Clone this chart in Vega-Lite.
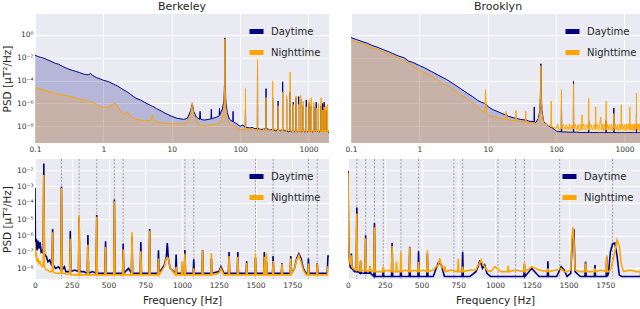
{
"$schema": "https://vega.github.io/schema/vega-lite/v6.json",
"padding": {"left": 2, "top": 1, "right": 0, "bottom": 0},
"config": {
 "font": "DejaVu Sans",
 "view": {"fill": "#EAEAF2", "stroke": null},
 "axis": {"domain": false, "ticks": false, "grid": true, "gridColor": "#FFFFFF", "gridWidth": 1, "labelFontSize": 7.5, "labelColor": "#333333", "labelPadding": 2, "labelFlush": false, "titleFontSize": 10.5, "titleFontWeight": "normal", "titleColor": "#262626", "titlePadding": 4},
 "legend": {"orient": "top-right", "offset": 8, "symbolType": "stroke", "symbolStrokeWidth": 5, "symbolSize": 196, "labelFontSize": 10, "labelColor": "#262626", "rowPadding": 0, "labelOffset": 5, "padding": 0},
 "title": {"fontSize": 11, "fontWeight": "normal", "color": "#262626", "offset": 2}
},
"datasets": {
 "tb": [
  {"f":0.1,"D":1.7e-2,"N":2.3e-5},{"f":0.11,"D":1.3e-2,"N":2.1e-5},{"f":0.12,"D":1.1e-2,"N":1.8e-5},{"f":0.13,"D":1.0e-2,"N":1.7e-5},
  {"f":0.15,"D":7e-3,"N":1.26e-5},{"f":0.17,"D":5e-3,"N":1e-5},{"f":0.2,"D":3.2e-3,"N":7e-6},{"f":0.22,"D":2.8e-3,"N":6.3e-6},
  {"f":0.25,"D":1.8e-3,"N":5.6e-6},{"f":0.3,"D":1.1e-3,"N":4.5e-6},{"f":0.35,"D":8e-4,"N":3.8e-6},{"f":0.4,"D":6.3e-4,"N":2.8e-6},
  {"f":0.45,"D":5e-4,"N":2.5e-6},{"f":0.5,"D":4e-4,"N":2e-6},{"f":0.55,"D":3.4e-4,"N":1.8e-6},{"f":0.6,"D":3.2e-4,"N":1.6e-6},
  {"f":0.65,"D":4.2e-4,"N":1.4e-6},{"f":0.7,"D":2.8e-4,"N":1.26e-6},{"f":0.8,"D":1.8e-4,"N":8e-7},{"f":0.9,"D":1.4e-4,"N":5e-7},
  {"f":1,"D":1.07e-4,"N":4.5e-7},{"f":1.2,"D":8e-5,"N":5e-7},{"f":1.4,"D":5e-5,"N":9e-7},{"f":1.5,"D":4e-5,"N":1e-6},
  {"f":1.6,"D":3.5e-5,"N":6.3e-7},{"f":1.8,"D":2.2e-5,"N":2e-7},{"f":2,"D":1.5e-5,"N":1.07e-7},{"f":2.2,"D":1.1e-5,"N":2e-7},
  {"f":2.5,"D":6.3e-6,"N":8e-8},{"f":3,"D":2.8e-6,"N":4e-8},{"f":3.5,"D":2e-6,"N":3.5e-8},{"f":4,"D":1.26e-6,"N":2.8e-8},
  {"f":5,"D":6.3e-7,"N":3.5e-8},{"f":5.2,"D":5.6e-7,"N":1e-7},{"f":5.5,"D":5e-7,"N":3.2e-8},{"f":6,"D":3.5e-7,"N":2.5e-8},
  {"f":7,"D":2.2e-7,"N":2e-8},{"f":8,"D":1.4e-7,"N":1.8e-8},{"f":10,"D":7.4e-8,"N":1.7e-8},{"f":12,"D":5e-8,"N":1.6e-8},
  {"f":15,"D":4e-8,"N":1.6e-8},{"f":17,"D":5e-8,"N":2.5e-8},{"f":19,"D":2.5e-7,"N":1.26e-7},{"f":20,"D":1e-6,"N":1.26e-6},
  {"f":21,"D":2e-7,"N":1e-7},{"f":23,"D":6.3e-8,"N":3.2e-8},{"f":25.5,"D":4e-8,"N":1.26e-8},{"f":26,"D":2e-7,"N":1.26e-8},
  {"f":26.5,"D":4e-8,"N":1.2e-8},{"f":30,"D":3.5e-8,"N":1.1e-8},{"f":35,"D":4e-8,"N":1.26e-8},{"f":37.5,"D":4.5e-8,"N":1.4e-8},
  {"f":38,"D":3.2e-7,"N":1.4e-8},{"f":38.5,"D":4.5e-8,"N":1.4e-8},{"f":45,"D":6.3e-8,"N":1.6e-8},{"f":49.5,"D":8e-8,"N":2e-8},
  {"f":50,"D":4e-7,"N":2e-8},{"f":50.5,"D":1e-7,"N":2e-8},{"f":55,"D":3.2e-7,"N":6.3e-8},{"f":58,"D":1.6e-6,"N":3.2e-7},
  {"f":59.5,"D":1e-4,"N":3.2e-5},{"f":60,"D":0.56,"N":0.45},{"f":60.5,"D":1e-4,"N":3.2e-5},{"f":62,"D":1.26e-6,"N":3.2e-7},
  {"f":65,"D":1.6e-7,"N":5e-8},{"f":70,"D":4e-8,"N":1.6e-8},{"f":78.5,"D":2.5e-8,"N":1.1e-8},{"f":79,"D":2e-7,"N":1.1e-8},
  {"f":79.5,"D":2.5e-8,"N":1.1e-8},{"f":90,"D":1.6e-8,"N":8e-9},{"f":100,"D":1e-8,"N":5e-9},{"f":110,"D":1.26e-8,"N":5e-9},
  {"f":119,"D":8e-9,"N":5e-9},{"f":120,"D":3.2e-7,"N":2e-5},{"f":121,"D":8e-9,"N":5e-9},{"f":140,"D":7e-9,"N":6e-9},
  {"f":150,"D":8e-9,"N":6.3e-9},{"f":165,"D":6e-9,"N":5e-9},{"f":179,"D":6.3e-9,"N":4e-9},{"f":180,"D":2.5e-3,"N":6.9e-3},
  {"f":181,"D":6.3e-9,"N":4e-9},{"f":210,"D":5e-9,"N":6.3e-9},{"f":239,"D":6.3e-9,"N":4e-9},{"f":240,"D":2e-5,"N":3.2e-6},
  {"f":241,"D":6.3e-9,"N":4e-9},{"f":270,"D":5e-9,"N":5e-9},{"f":299,"D":5e-9,"N":4e-9},{"f":300,"D":3.2e-6,"N":8.9e-5},
  {"f":301,"D":5e-9,"N":4e-9},{"f":330,"D":4e-9,"N":6.3e-9},{"f":359,"D":5e-9,"N":4e-9},{"f":360,"D":1.6e-6,"N":6.3e-7},
  {"f":361,"D":5e-9,"N":4e-9},{"f":390,"D":4e-9,"N":5e-9},{"f":419,"D":5e-9,"N":4e-9},{"f":420,"D":7.9e-5,"N":1e-5},
  {"f":421,"D":5e-9,"N":4e-9},{"f":450,"D":4e-9,"N":3.2e-9},{"f":479,"D":4e-9,"N":4e-9},{"f":480,"D":2.5e-6,"N":5e-6},
  {"f":481,"D":4e-9,"N":4e-9},{"f":510,"D":3.2e-9,"N":5e-9},{"f":539,"D":4e-9,"N":4e-9},{"f":540,"D":1e-5,"N":5.6e-4},
  {"f":541,"D":4e-9,"N":4e-9},{"f":570,"D":3.2e-9,"N":4e-9},{"f":599,"D":4e-9,"N":3.2e-9},{"f":600,"D":1.26e-6,"N":8e-7},
  {"f":601,"D":4e-9,"N":3.2e-9},{"f":630,"D":3.2e-9,"N":5e-9},{"f":659,"D":4e-9,"N":3.2e-9},{"f":660,"D":3.2e-6,"N":4.5e-6},
  {"f":661,"D":4e-9,"N":3.2e-9},{"f":690,"D":3.2e-9,"N":4e-9},{"f":719,"D":4e-9,"N":3.2e-9},{"f":720,"D":4e-6,"N":8e-7},
  {"f":721,"D":4e-9,"N":3.2e-9},{"f":745,"D":3.2e-9,"N":4e-9},{"f":769,"D":4e-9,"N":3.2e-9},{"f":770,"D":2.5e-6,"N":5e-6},
  {"f":771,"D":4e-9,"N":3.2e-9},{"f":800,"D":3.2e-9,"N":4.5e-9},{"f":839,"D":4e-9,"N":3.2e-9},{"f":840,"D":6.3e-7,"N":1.6e-6},
  {"f":841,"D":4e-9,"N":3.2e-9},{"f":880,"D":3.2e-9,"N":4.5e-9},{"f":929,"D":4e-9,"N":3.2e-9},{"f":930,"D":2e-6,"N":5e-7},
  {"f":931,"D":4e-9,"N":3.2e-9},{"f":975,"D":3.2e-9,"N":4.5e-9},{"f":1019,"D":4e-9,"N":3.2e-9},{"f":1020,"D":1e-6,"N":2e-6},
  {"f":1021,"D":4e-9,"N":3.2e-9},{"f":1060,"D":3.2e-9,"N":4.5e-9},{"f":1099,"D":4e-9,"N":3.2e-9},{"f":1100,"D":6.3e-7,"N":3.2e-6},
  {"f":1101,"D":4e-9,"N":3.2e-9},{"f":1150,"D":3.2e-9,"N":4.5e-9},{"f":1199,"D":4e-9,"N":3.2e-9},{"f":1200,"D":5e-7,"N":1.26e-6},
  {"f":1201,"D":4e-9,"N":3.2e-9},{"f":1250,"D":3.2e-9,"N":4.5e-9},{"f":1299,"D":4e-9,"N":3.2e-9},{"f":1300,"D":1.26e-6,"N":4e-7},
  {"f":1301,"D":4e-9,"N":3.2e-9},{"f":1350,"D":3.2e-9,"N":4.5e-9},{"f":1399,"D":4e-9,"N":3.2e-9},{"f":1400,"D":3.2e-7,"N":1e-6},
  {"f":1401,"D":4e-9,"N":3.2e-9},{"f":1460,"D":3.2e-9,"N":4.5e-9},{"f":1529,"D":4e-9,"N":3.2e-9},{"f":1530,"D":6.3e-7,"N":3.2e-6},
  {"f":1531,"D":4e-9,"N":3.2e-9},{"f":1580,"D":3.2e-9,"N":4.5e-9},{"f":1619,"D":4e-9,"N":3.2e-9},{"f":1620,"D":1e-6,"N":2.5e-7},
  {"f":1621,"D":4e-9,"N":3.2e-9},{"f":1660,"D":3.2e-9,"N":4.5e-9},{"f":1699,"D":4e-9,"N":3.2e-9},{"f":1700,"D":1.26e-6,"N":5e-7},
  {"f":1701,"D":4e-9,"N":3.2e-9},{"f":1750,"D":3.2e-9,"N":4.5e-9},{"f":1799,"D":4e-9,"N":3.2e-9},{"f":1800,"D":2.5e-7,"N":6.3e-7},
  {"f":1801,"D":4e-9,"N":3.2e-9},{"f":1850,"D":3.2e-9,"N":4.5e-9},{"f":1899,"D":4e-9,"N":3.2e-9},{"f":1900,"D":3.2e-7,"N":8e-7},
  {"f":1901,"D":4e-9,"N":3.2e-9},{"f":1950,"D":3.2e-9,"N":4.5e-9},{"f":2000,"D":2.5e-9,"N":2.8e-9}
 ],
 "tk": [
  {"f":0.1,"D":0.59,"N":0.37},{"f":0.12,"D":0.4,"N":0.25},{"f":0.15,"D":0.25,"N":0.16},{"f":0.17,"D":0.2,"N":0.12},
  {"f":0.2,"D":0.126,"N":0.079},{"f":0.25,"D":0.079,"N":0.05},{"f":0.3,"D":0.05,"N":0.032},{"f":0.35,"D":0.036,"N":0.022},
  {"f":0.4,"D":0.025,"N":0.016},{"f":0.5,"D":0.014,"N":8.9e-3},{"f":0.6,"D":0.01,"N":5e-3},{"f":0.7,"D":5e-3,"N":3.2e-3},
  {"f":0.8,"D":4e-3,"N":2e-3},{"f":1,"D":2.1e-3,"N":7.9e-4},{"f":1.2,"D":1.3e-3,"N":5e-4},{"f":1.5,"D":6.3e-4,"N":2.5e-4},
  {"f":2,"D":2.5e-4,"N":7.9e-5},{"f":2.5,"D":1.26e-4,"N":4e-5},{"f":3,"D":6.3e-5,"N":2e-5},{"f":4,"D":2e-5,"N":6.3e-6},
  {"f":5,"D":7.9e-6,"N":2.5e-6},{"f":6,"D":4e-6,"N":1.1e-6},{"f":7,"D":2e-6,"N":5e-7},{"f":8,"D":1.3e-6,"N":2.5e-7},
  {"f":9,"D":1e-6,"N":1.6e-7},{"f":9.3,"D":8e-7,"N":1.6e-5},{"f":9.6,"D":7.9e-7,"N":1.6e-7},{"f":10,"D":5.4e-7,"N":1e-7},
  {"f":12,"D":2.8e-7,"N":7e-8},{"f":15,"D":1.6e-7,"N":5e-8},{"f":18,"D":1e-7,"N":4e-8},{"f":18.6,"D":1e-7,"N":2e-7},
  {"f":19.2,"D":9e-8,"N":4e-8},{"f":20,"D":7.4e-8,"N":3.7e-8},{"f":25.5,"D":5e-8,"N":3e-8},{"f":26,"D":5e-8,"N":2.5e-7},
  {"f":26.5,"D":5e-8,"N":3e-8},{"f":30,"D":4e-8,"N":2.5e-8},{"f":35.5,"D":3.5e-8,"N":2.2e-8},{"f":36,"D":3.5e-8,"N":2e-7},
  {"f":36.5,"D":3.5e-8,"N":2.2e-8},{"f":40,"D":2.8e-8,"N":2e-8},{"f":47.5,"D":2.5e-8,"N":1.8e-8},{"f":48,"D":5e-7,"N":1.8e-8},
  {"f":48.5,"D":2.5e-8,"N":1.8e-8},{"f":50,"D":2e-8,"N":1.6e-8},{"f":55,"D":5e-8,"N":3.2e-8},{"f":58,"D":2.5e-7,"N":1.6e-7},
  {"f":59.5,"D":3.2e-5,"N":1e-5},{"f":60,"D":3e-3,"N":2e-3},{"f":60.5,"D":3.2e-5,"N":1e-5},{"f":62,"D":2.5e-7,"N":1.6e-7},
  {"f":66,"D":2.5e-8,"N":2e-8},{"f":75,"D":1.26e-8,"N":1.26e-8},{"f":84,"D":8e-9,"N":1e-8},{"f":85,"D":8e-9,"N":1.6e-6},
  {"f":86,"D":8e-9,"N":1e-8},{"f":100,"D":4e-9,"N":6.3e-9},{"f":105,"D":3.5e-9,"N":1.6e-8},{"f":110,"D":3.5e-9,"N":5e-9},{"f":119,"D":3.2e-9,"N":6.3e-9},
  {"f":120,"D":1e-6,"N":1.6e-5},{"f":121,"D":3.2e-9,"N":6.3e-9},{"f":128,"D":3.2e-9,"N":1.6e-8},{"f":135,"D":3.2e-9,"N":5e-9},{"f":142,"D":3.2e-9,"N":1.4e-8},{"f":150,"D":3e-9,"N":5e-9},
  {"f":157,"D":3e-9,"N":1.6e-8},{"f":165,"D":3e-9,"N":5e-9},{"f":172,"D":3e-9,"N":1.3e-8},{"f":179,"D":3e-9,"N":6.3e-9},{"f":180,"D":8.9e-5,"N":5e-5},{"f":181,"D":3e-9,"N":6.3e-9},
  {"f":190,"D":3e-9,"N":1.6e-8},{"f":200,"D":3e-9,"N":5e-9},{"f":210,"D":3e-9,"N":1.4e-8},{"f":220,"D":2.8e-9,"N":4e-9},{"f":230,"D":2.8e-9,"N":1.6e-8},{"f":239,"D":2.8e-9,"N":5e-9},{"f":240,"D":2.8e-9,"N":1e-7},
  {"f":241,"D":2.8e-9,"N":5e-9},{"f":255,"D":2.8e-9,"N":1.6e-8},{"f":270,"D":2.8e-9,"N":5e-9},{"f":285,"D":2.8e-9,"N":1.4e-8},{"f":299,"D":2.8e-9,"N":5e-9},{"f":300,"D":3.2e-8,"N":2.8e-6},
  {"f":301,"D":2.8e-9,"N":5e-9},{"f":320,"D":2.8e-9,"N":1.6e-8},{"f":340,"D":2.8e-9,"N":5e-9},{"f":360,"D":2.8e-9,"N":1.4e-8},{"f":379,"D":2.8e-9,"N":5e-9},{"f":380,"D":2.8e-9,"N":5e-7},
  {"f":381,"D":2.8e-9,"N":5e-9},{"f":400,"D":2.8e-9,"N":1.6e-8},{"f":420,"D":2.8e-9,"N":5e-9},{"f":435,"D":2.8e-9,"N":1.4e-8},{"f":450,"D":2.8e-9,"N":6.3e-8},{"f":465,"D":2.8e-9,"N":5e-9},{"f":480,"D":2.8e-9,"N":1.6e-8},
  {"f":495,"D":2.8e-9,"N":4e-9},{"f":510,"D":2.8e-9,"N":1.4e-8},{"f":525,"D":2.8e-9,"N":5e-9},{"f":539,"D":2.8e-9,"N":5e-9},{"f":540,"D":3.2e-8,"N":1.6e-6},{"f":541,"D":2.8e-9,"N":5e-9},
  {"f":560,"D":2.8e-9,"N":1.6e-8},{"f":580,"D":2.8e-9,"N":5e-9},{"f":600,"D":2.8e-9,"N":1.4e-8},{"f":625,"D":2.8e-9,"N":5e-9},{"f":650,"D":2.8e-9,"N":1.6e-8},{"f":675,"D":2.8e-9,"N":4e-9},{"f":699,"D":2.8e-9,"N":6.3e-9},{"f":700,"D":4e-7,"N":1.26e-7},
  {"f":701,"D":2.8e-9,"N":6.3e-9},{"f":730,"D":2.8e-9,"N":1.6e-8},{"f":760,"D":2.8e-9,"N":5e-9},{"f":790,"D":2.8e-9,"N":1.4e-8},{"f":820,"D":2.8e-9,"N":4e-9},{"f":850,"D":2.8e-9,"N":1.6e-8},{"f":875,"D":2.8e-9,"N":5e-9},{"f":899,"D":2.8e-9,"N":6.3e-9},
  {"f":900,"D":2.8e-9,"N":7.9e-7},{"f":901,"D":2.8e-9,"N":6.3e-9},{"f":930,"D":2.8e-9,"N":1.6e-8},{"f":960,"D":2.8e-9,"N":5e-9},{"f":995,"D":2.8e-9,"N":1.4e-8},{"f":1030,"D":2.8e-9,"N":4e-9},{"f":1065,"D":2.8e-9,"N":1.6e-8},
  {"f":1100,"D":2.8e-9,"N":5e-9},{"f":1135,"D":2.8e-9,"N":1.6e-8},{"f":1170,"D":2.8e-9,"N":5e-9},{"f":1199,"D":2.8e-9,"N":5e-9},{"f":1200,"D":2.8e-9,"N":5e-7},{"f":1201,"D":2.8e-9,"N":5e-9},
  {"f":1240,"D":2.8e-9,"N":1.6e-8},{"f":1280,"D":2.8e-9,"N":5e-9},{"f":1315,"D":2.8e-9,"N":1.4e-8},{"f":1350,"D":2.8e-9,"N":4e-9},{"f":1385,"D":2.8e-9,"N":1.6e-8},{"f":1420,"D":2.8e-9,"N":5e-9},{"f":1460,"D":2.8e-9,"N":1.6e-8},{"f":1499,"D":2.8e-9,"N":6.3e-9},
  {"f":1500,"D":1e-7,"N":7.9e-6},{"f":1501,"D":2.8e-9,"N":6.3e-9},{"f":1535,"D":2.8e-9,"N":1.6e-8},{"f":1570,"D":2.8e-9,"N":5e-9},{"f":1610,"D":2.8e-9,"N":1.6e-8},{"f":1650,"D":2.8e-9,"N":4e-9},
  {"f":1685,"D":2.8e-9,"N":1.6e-8},{"f":1720,"D":2.8e-9,"N":5e-9},{"f":1760,"D":2.8e-9,"N":1.6e-8},{"f":1799,"D":2.8e-9,"N":6.3e-9},{"f":1800,"D":2.5e-7,"N":1.6e-6},{"f":1801,"D":2.8e-9,"N":6.3e-9},
  {"f":1835,"D":2.8e-9,"N":1.6e-8},{"f":1870,"D":2.8e-9,"N":5e-9},{"f":1905,"D":2.8e-9,"N":1.6e-8},{"f":1940,"D":2.8e-9,"N":4e-9},{"f":1970,"D":2.8e-9,"N":1.6e-8},{"f":2000,"D":2.5e-9,"N":7.9e-9}
 ],
 "bb": [
  {"f":0,"D":8e-4,"N":4e-7},{"f":3,"D":2.5e-7,"N":5e-8},{"f":8,"D":6.3e-7,"N":1e-7},{"f":14,"D":1.26e-7,"N":2.5e-8},
  {"f":20,"D":5e-7,"N":4e-8},{"f":27,"D":1.6e-7,"N":2e-8},{"f":34,"D":4e-7,"N":2.5e-8},{"f":42,"D":1e-7,"N":1.6e-8},
  {"f":50,"D":1.26e-7,"N":1.26e-8},{"f":56,"D":8e-8,"N":1.6e-8},{"f":60,"D":2.5e-2,"N":5e-3},{"f":64,"D":8e-8,"N":1.26e-8},
  {"f":70,"D":6.3e-8,"N":1e-8},{"f":78,"D":5e-8,"N":7.9e-9},{"f":88,"D":2.5e-8,"N":7.9e-9},{"f":100,"D":3.2e-8,"N":6.3e-9},
  {"f":112,"D":1.6e-8,"N":6.3e-9},{"f":116,"D":1.6e-8,"N":6.3e-9},{"f":120,"D":2.5e-6,"N":1.6e-6},{"f":124,"D":1.6e-8,"N":6.3e-9},
  {"f":140,"D":1e-8,"N":5e-9},{"f":160,"D":1.26e-8,"N":5e-9},{"f":176,"D":7.9e-9,"N":5e-9},{"f":180,"D":1e-3,"N":7.9e-4},
  {"f":184,"D":7.9e-9,"N":5e-9},{"f":200,"D":1.26e-8,"N":5e-9},{"f":210,"D":6.3e-9,"N":4.5e-9},{"f":236,"D":6.3e-9,"N":4.5e-9},
  {"f":240,"D":2e-6,"N":6.3e-7},{"f":244,"D":6.3e-9,"N":4e-9},{"f":270,"D":7.9e-9,"N":4e-9},{"f":296,"D":6.3e-9,"N":4e-9},
  {"f":300,"D":1.26e-5,"N":1.8e-5},{"f":304,"D":6.3e-9,"N":4e-9},{"f":330,"D":6.3e-9,"N":4e-9},{"f":356,"D":5e-9,"N":4e-9},
  {"f":360,"D":1.1e-6,"N":2.8e-7},{"f":364,"D":5e-9,"N":4e-9},{"f":390,"D":6.3e-9,"N":4e-9},{"f":416,"D":5e-9,"N":4e-9},
  {"f":420,"D":1.8e-5,"N":1.4e-5},{"f":424,"D":5e-9,"N":4e-9},{"f":450,"D":5e-9,"N":4e-9},{"f":476,"D":5e-9,"N":4e-9},
  {"f":480,"D":4.5e-7,"N":2e-7},{"f":484,"D":5e-9,"N":4e-9},{"f":510,"D":5e-9,"N":4e-9},{"f":536,"D":5e-9,"N":4e-9},
  {"f":540,"D":1.6e-4,"N":1.26e-4},{"f":544,"D":5e-9,"N":4e-9},{"f":570,"D":5e-9,"N":4e-9},{"f":596,"D":5e-9,"N":4e-9},
  {"f":600,"D":3.2e-7,"N":1.4e-7},{"f":604,"D":5e-9,"N":4e-9},{"f":636,"D":1e-8,"N":4e-9},{"f":656,"D":5e-9,"N":4e-9},
  {"f":660,"D":8.9e-7,"N":1.6e-6},{"f":664,"D":5e-9,"N":4e-9},{"f":690,"D":5e-9,"N":4e-9},{"f":716,"D":5e-9,"N":4e-9},
  {"f":720,"D":4e-7,"N":1.1e-7},{"f":724,"D":5e-9,"N":4e-9},{"f":750,"D":5e-9,"N":4e-9},{"f":776,"D":5e-9,"N":4e-9},
  {"f":780,"D":2.5e-6,"N":2e-6},{"f":784,"D":5e-9,"N":4e-9},{"f":810,"D":5e-9,"N":4e-9},{"f":836,"D":5e-9,"N":4e-9},
  {"f":840,"D":1.26e-7,"N":4e-8},{"f":844,"D":5e-9,"N":4e-9},{"f":880,"D":1.6e-8,"N":1.26e-8},{"f":893,"D":5e-8,"N":4e-8},
  {"f":900,"D":3.5e-7,"N":4.5e-8},{"f":907,"D":4e-8,"N":4e-8},{"f":920,"D":1e-8,"N":1e-8},{"f":956,"D":5e-9,"N":4e-9},
  {"f":960,"D":7e-8,"N":1.26e-8},{"f":964,"D":5e-9,"N":4e-9},{"f":996,"D":5e-9,"N":4e-9},{"f":1000,"D":6.3e-9,"N":2.7e-8},
  {"f":1004,"D":5e-9,"N":4e-9},{"f":1016,"D":5e-9,"N":4e-9},{"f":1020,"D":1.3e-7,"N":7.9e-8},{"f":1024,"D":5e-9,"N":4e-9},
  {"f":1050,"D":5e-9,"N":4e-9},{"f":1076,"D":5e-9,"N":4e-9},{"f":1080,"D":3.6e-8,"N":1e-8},{"f":1084,"D":5e-9,"N":4e-9},
  {"f":1110,"D":5e-9,"N":4e-9},{"f":1136,"D":5e-9,"N":4e-9},{"f":1140,"D":1.3e-7,"N":1.26e-7},{"f":1144,"D":5e-9,"N":4e-9},
  {"f":1170,"D":5e-9,"N":4e-9},{"f":1196,"D":5e-9,"N":4e-9},{"f":1200,"D":4e-8,"N":8.5e-8},{"f":1204,"D":5e-9,"N":4e-9},
  {"f":1250,"D":6.3e-9,"N":5e-9},{"f":1265,"D":1.26e-8,"N":1e-8},{"f":1285,"D":5e-9,"N":4e-9},{"f":1316,"D":5e-9,"N":4e-9},
  {"f":1320,"D":1e-7,"N":5.6e-8},{"f":1324,"D":5e-9,"N":4e-9},{"f":1350,"D":5e-9,"N":4e-9},{"f":1376,"D":5e-9,"N":4e-9},
  {"f":1380,"D":1e-7,"N":5e-8},{"f":1384,"D":5e-9,"N":4e-9},{"f":1410,"D":5e-9,"N":4e-9},{"f":1436,"D":5e-9,"N":4e-9},
  {"f":1440,"D":2.7e-8,"N":2.2e-8},{"f":1444,"D":5e-9,"N":4e-9},{"f":1470,"D":5e-9,"N":4e-9},{"f":1496,"D":5e-9,"N":4e-9},
  {"f":1500,"D":4.5e-8,"N":7.9e-8},{"f":1504,"D":5e-9,"N":4e-9},{"f":1530,"D":5e-9,"N":4e-9},{"f":1556,"D":5e-9,"N":4e-9},
  {"f":1560,"D":1e-7,"N":5e-8},{"f":1564,"D":5e-9,"N":4e-9},{"f":1571,"D":5e-9,"N":4e-9},{"f":1575,"D":2.5e-8,"N":7.9e-8},
  {"f":1579,"D":5e-9,"N":4e-9},{"f":1616,"D":5e-9,"N":4e-9},{"f":1620,"D":5.6e-8,"N":2.8e-8},{"f":1624,"D":5e-9,"N":4e-9},
  {"f":1650,"D":5e-9,"N":4e-9},{"f":1676,"D":5e-9,"N":4e-9},{"f":1680,"D":2.1e-8,"N":2e-8},{"f":1684,"D":5e-9,"N":4e-9},
  {"f":1710,"D":5e-9,"N":4e-9},{"f":1736,"D":5e-9,"N":4e-9},{"f":1740,"D":5.6e-8,"N":4e-8},{"f":1744,"D":5e-9,"N":4e-9},
  {"f":1765,"D":1e-8,"N":1e-8},{"f":1780,"D":4e-8,"N":3.2e-8},{"f":1795,"D":7.9e-8,"N":6.3e-8},{"f":1810,"D":4e-8,"N":2.5e-8},
  {"f":1825,"D":1e-8,"N":7.9e-9},{"f":1845,"D":5e-9,"N":4e-9},{"f":1856,"D":5e-9,"N":4e-9},{"f":1860,"D":4e-8,"N":2e-8},
  {"f":1864,"D":5e-9,"N":4e-9},{"f":1890,"D":5e-9,"N":4e-9},{"f":1916,"D":5e-9,"N":4e-9},{"f":1920,"D":2e-8,"N":2e-8},
  {"f":1924,"D":5e-9,"N":4e-9},{"f":1960,"D":5e-9,"N":4e-9},{"f":1988,"D":5e-9,"N":4e-9},{"f":1993,"D":5.6e-8,"N":1.26e-8},
  {"f":2000,"D":5.6e-8,"N":1.26e-8}
 ],
 "bk": [
  {"f":0,"D":9e-3,"N":6.3e-3},{"f":2,"D":1e-4,"N":3.2e-5},{"f":4,"D":1.26e-6,"N":1e-6},{"f":8,"D":5e-8,"N":6.3e-8},
  {"f":15,"D":1.26e-8,"N":2e-8},{"f":20,"D":1e-8,"N":1.6e-8},{"f":23,"D":7.9e-8,"N":6.3e-8},{"f":26,"D":1e-8,"N":1.26e-8},
  {"f":35,"D":7.9e-9,"N":1e-8},{"f":45,"D":6.3e-9,"N":1e-8},{"f":56,"D":6.3e-9,"N":7.9e-9},{"f":60,"D":5.1e-5,"N":2.2e-5},
  {"f":64,"D":6.3e-9,"N":7.9e-9},{"f":82,"D":5e-9,"N":7e-9},{"f":86,"D":2.7e-8,"N":3.2e-8},{"f":90,"D":5e-9,"N":7e-9},
  {"f":100,"D":5e-9,"N":7.9e-9},{"f":116,"D":5e-9,"N":7e-9},{"f":120,"D":1.05e-6,"N":6.9e-7},{"f":124,"D":5e-9,"N":7e-9},
  {"f":146,"D":5e-9,"N":7e-9},{"f":150,"D":1.4e-8,"N":1.4e-8},{"f":154,"D":5e-9,"N":7e-9},{"f":176,"D":3.2e-9,"N":6.3e-9},
  {"f":180,"D":5.9e-6,"N":3.2e-6},{"f":184,"D":3.2e-9,"N":6.3e-9},{"f":236,"D":3.2e-9,"N":6.3e-9},{"f":240,"D":1e-8,"N":1.26e-8},
  {"f":244,"D":3.2e-9,"N":6.3e-9},{"f":270,"D":3.2e-9,"N":7.9e-9},{"f":296,"D":3.2e-9,"N":6.3e-9},{"f":300,"D":3.5e-7,"N":2.3e-7},
  {"f":304,"D":3.2e-9,"N":6.3e-9},{"f":326,"D":3.2e-9,"N":6.3e-9},{"f":330,"D":3.2e-9,"N":2.5e-8},{"f":334,"D":3.2e-9,"N":6.3e-9},
  {"f":356,"D":3.2e-9,"N":6.3e-9},{"f":360,"D":1.26e-8,"N":1e-7},{"f":364,"D":3.2e-9,"N":6.3e-9},{"f":390,"D":3.2e-9,"N":7.9e-9},
  {"f":416,"D":3.2e-9,"N":6.3e-9},{"f":420,"D":2.1e-7,"N":1.9e-7},{"f":424,"D":3.2e-9,"N":6.3e-9},{"f":450,"D":3.2e-9,"N":7.9e-9},
  {"f":476,"D":3.2e-9,"N":6.3e-9},{"f":480,"D":1.1e-7,"N":2.5e-8},{"f":484,"D":3.2e-9,"N":6.3e-9},{"f":510,"D":3.2e-9,"N":7.9e-9},
  {"f":536,"D":3.2e-9,"N":6.3e-9},{"f":540,"D":7.9e-8,"N":1.26e-7},{"f":544,"D":3.2e-9,"N":6.3e-9},{"f":580,"D":3.2e-9,"N":7.9e-9},
  {"f":600,"D":1e-8,"N":1.26e-8},{"f":615,"D":2.2e-8,"N":1.6e-8},{"f":624,"D":2e-8,"N":4.2e-8},{"f":635,"D":1.6e-8,"N":1.26e-8},
  {"f":650,"D":5e-9,"N":1e-8},{"f":656,"D":3.2e-9,"N":6.3e-9},{"f":660,"D":3.2e-9,"N":1.4e-8},{"f":664,"D":3.2e-9,"N":6.3e-9},
  {"f":700,"D":3.2e-9,"N":7.9e-9},{"f":746,"D":3.2e-9,"N":6.3e-9},{"f":750,"D":3.2e-9,"N":4e-8},{"f":754,"D":3.2e-9,"N":6.3e-9},
  {"f":776,"D":3.2e-9,"N":6.3e-9},{"f":780,"D":1e-7,"N":1.26e-8},{"f":784,"D":3.2e-9,"N":6.3e-9},{"f":830,"D":3.2e-9,"N":7.9e-9},
  {"f":870,"D":6.3e-9,"N":7.9e-9},{"f":885,"D":1.26e-8,"N":1.6e-8},{"f":895,"D":2.7e-8,"N":2e-8},{"f":905,"D":2e-8,"N":3.3e-8},
  {"f":915,"D":1e-8,"N":2e-8},{"f":930,"D":1.6e-8,"N":1.26e-8},{"f":945,"D":5e-9,"N":7.9e-9},{"f":970,"D":3.2e-9,"N":6.3e-9},
  {"f":1000,"D":3.2e-9,"N":1.26e-8},{"f":1040,"D":3.2e-9,"N":6.3e-9},{"f":1086,"D":3.2e-9,"N":6.3e-9},{"f":1090,"D":3.2e-9,"N":1.4e-8},
  {"f":1094,"D":3.2e-9,"N":6.3e-9},{"f":1140,"D":3.2e-9,"N":7.9e-9},{"f":1196,"D":3.2e-9,"N":6.3e-9},{"f":1200,"D":1.7e-8,"N":2.2e-8},
  {"f":1204,"D":3.2e-9,"N":6.3e-9},{"f":1250,"D":1e-8,"N":1.26e-8},{"f":1300,"D":3.2e-9,"N":7.9e-9},{"f":1356,"D":3.2e-9,"N":6.3e-9},
  {"f":1360,"D":2.7e-8,"N":1e-8},{"f":1364,"D":3.2e-9,"N":6.3e-9},{"f":1420,"D":3.2e-9,"N":7.9e-9},{"f":1450,"D":1.26e-8,"N":1e-8},
  {"f":1470,"D":7.9e-9,"N":6.3e-9},{"f":1490,"D":3.2e-9,"N":6.3e-9},{"f":1515,"D":5e-9,"N":7.9e-9},{"f":1525,"D":3.2e-7,"N":1e-6},
  {"f":1530,"D":1.4e-6,"N":3.2e-6},{"f":1537,"D":1.8e-6,"N":5e-7},{"f":1545,"D":6.3e-9,"N":7.9e-9},{"f":1580,"D":3.2e-9,"N":6.3e-9},
  {"f":1612,"D":3.2e-9,"N":6.3e-9},{"f":1616,"D":2.5e-8,"N":2e-8},{"f":1620,"D":3.2e-9,"N":6.3e-9},{"f":1676,"D":3.2e-9,"N":6.3e-9},
  {"f":1680,"D":1.6e-8,"N":1e-8},{"f":1684,"D":3.2e-9,"N":6.3e-9},{"f":1720,"D":3.2e-9,"N":7.9e-9},{"f":1756,"D":3.2e-9,"N":6.3e-9},
  {"f":1760,"D":5e-8,"N":6.3e-8},{"f":1764,"D":3.2e-9,"N":6.3e-9},{"f":1772,"D":5e-9,"N":6.3e-9},{"f":1785,"D":1e-7,"N":7.9e-9},
  {"f":1800,"D":3.2e-7,"N":2.5e-8},{"f":1815,"D":3.5e-7,"N":1e-7},{"f":1830,"D":6.3e-8,"N":5.5e-7},{"f":1845,"D":4e-9,"N":2.5e-7},
  {"f":1860,"D":3.2e-9,"N":1.6e-8},{"f":1875,"D":3.2e-9,"N":6.3e-9},{"f":1920,"D":3.2e-9,"N":7.9e-9},{"f":1960,"D":3.2e-9,"N":6.3e-9},
  {"f":1990,"D":3.2e-9,"N":6.3e-9},{"f":2000,"D":1.6e-7,"N":6.3e-9}
 ],
 "hb": [{"f":180},{"f":300},{"f":420},{"f":540},{"f":600},{"f":1020},{"f":1080},{"f":1260},{"f":1500},{"f":1620},{"f":1860},{"f":1920}],
 "hk": [{"f":60},{"f":120},{"f":180},{"f":240},{"f":360},{"f":480},{"f":720},{"f":780},{"f":1020},{"f":1140},{"f":1200},{"f":1440},{"f":1800}]
},
"spacing": 5,
"resolve": {"scale": {"stroke": "independent"}, "legend": {"stroke": "independent"}},
"vconcat": [
 {
  "spacing": 16,
  "resolve": {"scale": {"stroke": "independent"}, "legend": {"stroke": "independent"}},
  "hconcat": [
   {
    "width": 294, "height": 129, "title": "Berkeley",
    "data": {"name": "tb"},
    "transform": [{"fold": ["D", "N"], "as": ["s", "v"]}],
    "encoding": {
     "x": {"field": "f", "type": "quantitative", "scale": {"type": "log", "domain": [0.1, 2000], "nice": false}, "axis": {"values": [0.1, 1, 10, 100, 1000], "format": "~g", "title": null}},
     "y": {"field": "v", "type": "quantitative", "stack": null, "scale": {"type": "log", "domain": [3.4e-10, 69], "nice": false}, "axis": {"values": [1, 0.01, 0.0001, 1e-6, 1e-8], "labelExpr": "['10⁰','10⁻¹','10⁻²','10⁻³','10⁻⁴','10⁻⁵','10⁻⁶','10⁻⁷','10⁻⁸','10⁻⁹'][-round(log(datum.value)/LN10)]", "title": "PSD [μT²/Hz]"}}
    },
    "layer": [
     {"transform": [{"filter": "datum.s == 'D'"}], "mark": {"type": "area", "color": "#000080", "opacity": 0.22, "clip": true}},
     {"transform": [{"filter": "datum.s == 'N'"}], "mark": {"type": "area", "color": "#FFA500", "opacity": 0.22, "clip": true}},
     {"mark": {"type": "line", "strokeWidth": 1, "clip": true}, "encoding": {"stroke": {"field": "s", "type": "nominal", "scale": {"domain": ["D", "N"], "range": ["#000080", "#FFA500"]}, "legend": {"title": null, "labelExpr": "datum.label == 'D' ? 'Daytime' : 'Nighttime'"}}}}
    ]
   },
   {
    "width": 294, "height": 129, "title": "Brooklyn",
    "data": {"name": "tk"},
    "transform": [{"fold": ["D", "N"], "as": ["s", "v"]}],
    "encoding": {
     "x": {"field": "f", "type": "quantitative", "scale": {"type": "log", "domain": [0.1, 2000], "nice": false}, "axis": {"values": [0.1, 1, 10, 100, 1000], "format": "~g", "title": null}},
     "y": {"field": "v", "type": "quantitative", "stack": null, "scale": {"type": "log", "domain": [3.4e-10, 69], "nice": false}, "axis": {"values": [1, 0.01, 0.0001, 1e-6, 1e-8], "labels": false, "title": null}}
    },
    "layer": [
     {"transform": [{"filter": "datum.s == 'D'"}], "mark": {"type": "area", "color": "#000080", "opacity": 0.22, "clip": true}},
     {"transform": [{"filter": "datum.s == 'N'"}], "mark": {"type": "area", "color": "#FFA500", "opacity": 0.22, "clip": true}},
     {"mark": {"type": "line", "strokeWidth": 1, "clip": true}, "encoding": {"stroke": {"field": "s", "type": "nominal", "scale": {"domain": ["D", "N"], "range": ["#000080", "#FFA500"]}, "legend": {"title": null, "labelExpr": "datum.label == 'D' ? 'Daytime' : 'Nighttime'"}}}}
    ]
   }
  ]
 },
 {
  "spacing": 16,
  "resolve": {"scale": {"stroke": "independent"}, "legend": {"stroke": "independent"}},
  "hconcat": [
   {
    "width": 294, "height": 120,
    "encoding": {
     "x": {"field": "f", "type": "quantitative", "scale": {"domain": [0, 2000], "nice": false, "zero": false}, "axis": {"values": [0, 250, 500, 750, 1000, 1250, 1500, 1750], "format": "d", "title": "Frequency [Hz]", "titlePadding": 7}}
    },
    "layer": [
     {"data": {"name": "hb"}, "mark": {"type": "rule", "color": "#666666", "strokeWidth": 0.8, "strokeDash": [2, 1.5], "opacity": 0.7}, "encoding": {"x": {"field": "f", "type": "quantitative"}}},
     {"data": {"name": "bb"}, "transform": [{"fold": ["D", "N"], "as": ["s", "v"]}], "mark": {"type": "line", "strokeWidth": 1.6, "clip": true},
      "encoding": {
       "y": {"field": "v", "type": "quantitative", "scale": {"type": "log", "domain": [2.24e-9, 0.047], "nice": false}, "axis": {"values": [0.01, 0.001, 0.0001, 1e-5, 1e-6, 1e-7, 1e-8], "labelExpr": "['10⁰','10⁻¹','10⁻²','10⁻³','10⁻⁴','10⁻⁵','10⁻⁶','10⁻⁷','10⁻⁸','10⁻⁹'][-round(log(datum.value)/LN10)]", "title": "PSD [μT²/Hz]"}},
       "stroke": {"field": "s", "type": "nominal", "scale": {"domain": ["D", "N"], "range": ["#000080", "#FFA500"]}, "legend": {"title": null, "labelExpr": "datum.label == 'D' ? 'Daytime' : 'Nighttime'"}}}}
    ]
   },
   {
    "width": 294, "height": 120,
    "encoding": {
     "x": {"field": "f", "type": "quantitative", "scale": {"domain": [0, 2000], "nice": false, "zero": false}, "axis": {"values": [0, 250, 500, 750, 1000, 1250, 1500, 1750], "format": "d", "title": "Frequency [Hz]", "titlePadding": 7}}
    },
    "layer": [
     {"data": {"name": "hk"}, "mark": {"type": "rule", "color": "#666666", "strokeWidth": 0.8, "strokeDash": [2, 1.5], "opacity": 0.7}, "encoding": {"x": {"field": "f", "type": "quantitative"}}},
     {"data": {"name": "bk"}, "transform": [{"fold": ["D", "N"], "as": ["s", "v"]}], "mark": {"type": "line", "strokeWidth": 1.6, "clip": true},
      "encoding": {
       "y": {"field": "v", "type": "quantitative", "scale": {"type": "log", "domain": [2.24e-9, 0.047], "nice": false}, "axis": {"values": [0.01, 0.001, 0.0001, 1e-5, 1e-6, 1e-7, 1e-8], "labels": false, "title": null}},
       "stroke": {"field": "s", "type": "nominal", "scale": {"domain": ["D", "N"], "range": ["#000080", "#FFA500"]}, "legend": {"title": null, "labelExpr": "datum.label == 'D' ? 'Daytime' : 'Nighttime'"}}}}
    ]
   }
  ]
 }
]
}
